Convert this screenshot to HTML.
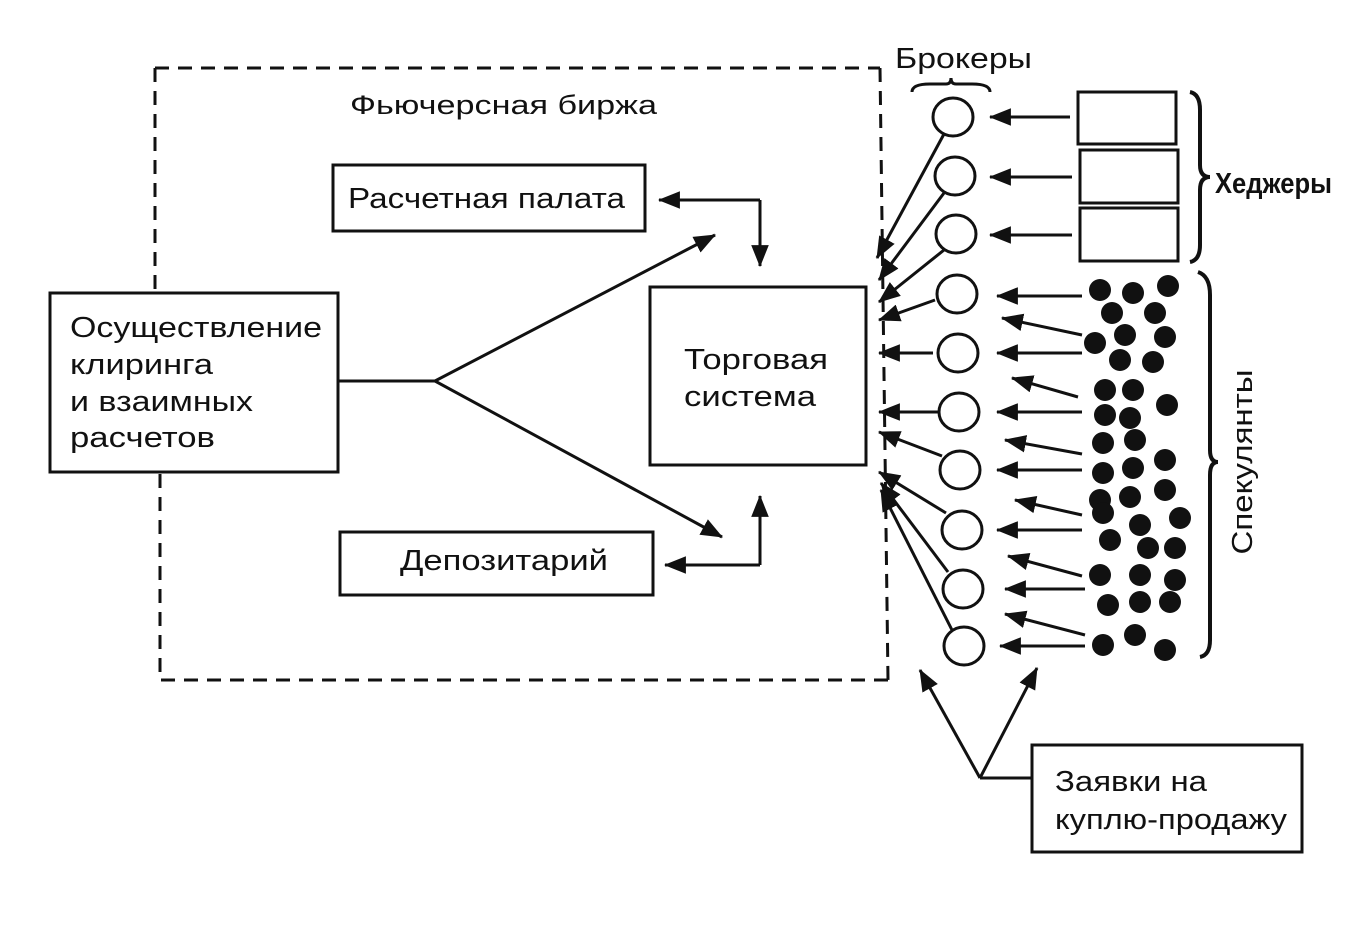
<!DOCTYPE html>
<html><head><meta charset="utf-8"><style>
html,body{margin:0;padding:0;background:#fff;}
svg{display:block;}
text{font-family:"Liberation Sans",sans-serif;fill:#111;}
</style></head><body>
<svg width="1356" height="948" viewBox="0 0 1356 948" xmlns="http://www.w3.org/2000/svg">
<defs>
<marker id="ah" viewBox="0 0 20 16" refX="19" refY="8" markerWidth="22" markerHeight="18" orient="auto" markerUnits="userSpaceOnUse"><path d="M0,0 L20,8 L0,16 z" fill="#111"/></marker>
</defs>
<g stroke="#111" stroke-width="3" fill="none" stroke-dasharray="14,9">
<path d="M155,68 L880,68"/>
<path d="M155,68 L155,292"/>
<path d="M160,474 L160,680 L888,680"/>
<path d="M880,68 L888,680"/>
</g>
<text x="350" y="114" font-size="27" textLength="307" lengthAdjust="spacingAndGlyphs">Фьючерсная биржа</text>
<g stroke="#111" stroke-width="3" fill="#fff">
<rect x="50" y="293" width="288" height="179"/>
<rect x="333" y="165" width="312" height="66"/>
<rect x="650" y="287" width="216" height="178"/>
<rect x="340" y="532" width="313" height="63"/>
<rect x="1032" y="745" width="270" height="107"/>
<rect x="1078" y="92" width="98" height="52"/>
<rect x="1080" y="150" width="98" height="53"/>
<rect x="1080" y="208" width="98" height="53"/>
</g>
<g font-size="29">
<text x="70" y="337" textLength="252" lengthAdjust="spacingAndGlyphs">Осуществление</text>
<text x="70" y="374" textLength="143" lengthAdjust="spacingAndGlyphs">клиринга</text>
<text x="70" y="411" textLength="183" lengthAdjust="spacingAndGlyphs">и взаимных</text>
<text x="70" y="447" textLength="145" lengthAdjust="spacingAndGlyphs">расчетов</text>
<text x="348" y="208" textLength="277" lengthAdjust="spacingAndGlyphs">Расчетная палата</text>
<text x="684" y="369" textLength="144" lengthAdjust="spacingAndGlyphs">Торговая</text>
<text x="684" y="406" textLength="132" lengthAdjust="spacingAndGlyphs">система</text>
<text x="400" y="570" textLength="208" lengthAdjust="spacingAndGlyphs">Депозитарий</text>
<text x="1055" y="791" textLength="152" lengthAdjust="spacingAndGlyphs">Заявки на</text>
<text x="1055" y="829" textLength="232" lengthAdjust="spacingAndGlyphs">куплю-продажу</text>
<text x="895" y="68" textLength="137" lengthAdjust="spacingAndGlyphs">Брокеры</text>
<text x="1215" y="193" font-weight="bold" textLength="117" lengthAdjust="spacingAndGlyphs">Хеджеры</text>
<text transform="translate(1252,462) rotate(-90)" text-anchor="middle" textLength="185" lengthAdjust="spacingAndGlyphs">Спекулянты</text>
</g>
<g stroke="#111" stroke-width="3" fill="none">
<path d="M338,381 L435,381"/>
<path d="M435,381 L715,235" marker-end="url(#ah)"/>
<path d="M435,381 L722,537" marker-end="url(#ah)"/>
<path d="M760,200 L659,200" marker-end="url(#ah)"/>
<path d="M760,200 L760,266" marker-end="url(#ah)"/>
<path d="M760,565 L760,496" marker-end="url(#ah)"/>
<path d="M760,565 L665,565" marker-end="url(#ah)"/>
<path d="M1032,778 L980,778"/>
<path d="M980,778 L920,670" marker-end="url(#ah)"/>
<path d="M980,778 L1037,668" marker-end="url(#ah)"/>
<path d="M912,92 Q912,84 930,84 L946,84 Q951,84 951,78 Q951,84 956,84 L972,84 Q990,84 990,92"/>
<path d="M1190,92 Q1200,94 1200,110 L1200,165 Q1200,177 1210,177 Q1200,177 1200,190 L1200,245 Q1200,260 1190,262" stroke-width="4"/>
<path d="M1198,272 Q1210,276 1210,295 L1210,450 Q1210,462 1218,462 Q1210,462 1210,475 L1210,640 Q1210,655 1200,657" stroke-width="4"/>
<path d="M1070,117 L990,117" marker-end="url(#ah)"/>
<path d="M1072,177 L990,177" marker-end="url(#ah)"/>
<path d="M1072,235 L990,235" marker-end="url(#ah)"/>
<path d="M1082,296 L997,296" marker-end="url(#ah)"/>
<path d="M1082,335 L1002,318" marker-end="url(#ah)"/>
<path d="M1082,353 L997,353" marker-end="url(#ah)"/>
<path d="M1078,397 L1012,378" marker-end="url(#ah)"/>
<path d="M1082,412 L997,412" marker-end="url(#ah)"/>
<path d="M1082,454 L1005,440" marker-end="url(#ah)"/>
<path d="M1082,470 L997,470" marker-end="url(#ah)"/>
<path d="M1082,515 L1015,500" marker-end="url(#ah)"/>
<path d="M1082,530 L997,530" marker-end="url(#ah)"/>
<path d="M1082,576 L1008,556" marker-end="url(#ah)"/>
<path d="M1085,589 L1005,589" marker-end="url(#ah)"/>
<path d="M1085,635 L1005,614" marker-end="url(#ah)"/>
<path d="M1085,646 L1000,646" marker-end="url(#ah)"/>
<path d="M944,134 L877,258" marker-end="url(#ah)"/>
<path d="M944,193 L879,280" marker-end="url(#ah)"/>
<path d="M944,250 L879,302" marker-end="url(#ah)"/>
<path d="M935,300 L879,320" marker-end="url(#ah)"/>
<path d="M933,353 L879,353" marker-end="url(#ah)"/>
<path d="M938,412 L879,412" marker-end="url(#ah)"/>
<path d="M942,456 L879,432" marker-end="url(#ah)"/>
<path d="M946,513 L879,472" marker-end="url(#ah)"/>
<path d="M948,572 L881,483" marker-end="url(#ah)"/>
<path d="M952,630 L881,490" marker-end="url(#ah)"/>
</g>
<g stroke="#111" stroke-width="3" fill="#fff">
<ellipse cx="953" cy="117" rx="20" ry="19"/>
<ellipse cx="955" cy="176" rx="20" ry="19"/>
<ellipse cx="956" cy="234" rx="20" ry="19"/>
<ellipse cx="957" cy="294" rx="20" ry="19"/>
<ellipse cx="958" cy="353" rx="20" ry="19"/>
<ellipse cx="959" cy="412" rx="20" ry="19"/>
<ellipse cx="960" cy="470" rx="20" ry="19"/>
<ellipse cx="962" cy="530" rx="20" ry="19"/>
<ellipse cx="963" cy="589" rx="20" ry="19"/>
<ellipse cx="964" cy="646" rx="20" ry="19"/>
</g>
<g fill="#111">
<circle cx="1100" cy="290" r="11"/><circle cx="1133" cy="293" r="11"/><circle cx="1168" cy="286" r="11"/>
<circle cx="1112" cy="313" r="11"/><circle cx="1155" cy="313" r="11"/>
<circle cx="1095" cy="343" r="11"/><circle cx="1125" cy="335" r="11"/><circle cx="1165" cy="337" r="11"/>
<circle cx="1120" cy="360" r="11"/><circle cx="1153" cy="362" r="11"/>
<circle cx="1105" cy="390" r="11"/><circle cx="1133" cy="390" r="11"/><circle cx="1167" cy="405" r="11"/>
<circle cx="1105" cy="415" r="11"/><circle cx="1130" cy="418" r="11"/>
<circle cx="1103" cy="443" r="11"/><circle cx="1135" cy="440" r="11"/><circle cx="1165" cy="460" r="11"/>
<circle cx="1103" cy="473" r="11"/><circle cx="1133" cy="468" r="11"/><circle cx="1165" cy="490" r="11"/>
<circle cx="1100" cy="500" r="11"/><circle cx="1130" cy="497" r="11"/>
<circle cx="1103" cy="513" r="11"/><circle cx="1140" cy="525" r="11"/><circle cx="1180" cy="518" r="11"/>
<circle cx="1110" cy="540" r="11"/><circle cx="1148" cy="548" r="11"/><circle cx="1175" cy="548" r="11"/>
<circle cx="1100" cy="575" r="11"/><circle cx="1140" cy="575" r="11"/><circle cx="1175" cy="580" r="11"/>
<circle cx="1108" cy="605" r="11"/><circle cx="1140" cy="602" r="11"/><circle cx="1170" cy="602" r="11"/>
<circle cx="1103" cy="645" r="11"/><circle cx="1135" cy="635" r="11"/><circle cx="1165" cy="650" r="11"/>
</g>
</svg>
</body></html>
